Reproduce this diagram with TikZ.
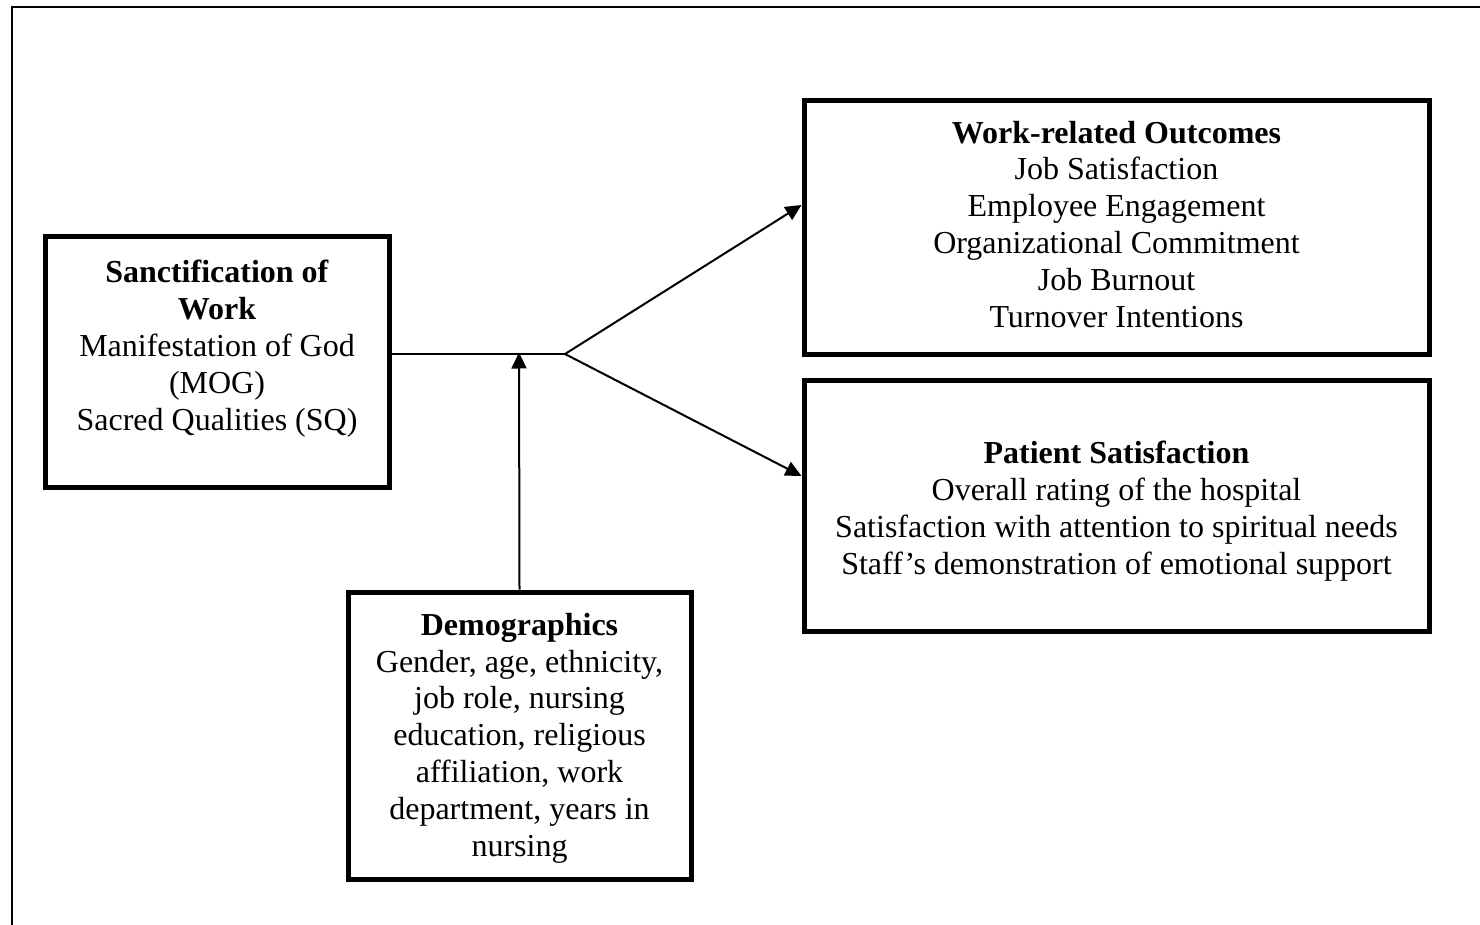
\documentclass[tikz,border=0pt]{standalone}
\usepackage{fontspec}
\setmainfont{Liberation Serif}
\usetikzlibrary{arrows.meta}
\begin{document}
\begin{tikzpicture}[x=1pt,y=-1pt,
  box/.style={draw, line width=5pt, inner sep=0pt},
  txt/.style={anchor=base, align=center, inner sep=0pt, font=\fontsize{32}{36.8}\selectfont},
  conn/.style={line width=2pt},
  arr/.style={line width=2pt, -{Triangle[length=16pt,width=15pt]}}]
\useasboundingbox (0,0) rectangle (1480,925);
% outer frame (top and left only)
\draw[line width=2.2pt] (12,925) -- (12,7) -- (1480,7);
% boxes
\node[box, minimum width=344pt, minimum height=250pt] (san) at (217,362) {};
\node[box, minimum width=625pt, minimum height=253pt] (work) at (1116.5,227.5) {};
\node[box, minimum width=625pt, minimum height=251pt] (pat) at (1116.5,505.5) {};
\node[box, minimum width=343pt, minimum height=287pt] (demo) at (519.5,735.5) {};
% texts (anchored at the baseline of the last line)
\node[txt] (santxt) at (217,430) {\textbf{Sanctification of}\\\textbf{Work}\\Manifestation of God\\(MOG)\\Sacred Qualities (SQ)};
\node[txt] (worktxt) at (1116.5,327) {\textbf{Work-related Outcomes}\\Job Satisfaction\\Employee Engagement\\Organizational Commitment\\Job Burnout\\Turnover Intentions};
\node[txt] (pattxt) at (1116.5,574) {\textbf{Patient Satisfaction}\\Overall rating of the hospital\\Satisfaction with attention to spiritual needs\\Staff’s demonstration of emotional support};
\node[txt] (demotxt) at (519.5,856) {\textbf{Demographics}\\Gender, age, ethnicity,\\job role, nursing\\education, religious\\affiliation, work\\department, years in\\nursing};
% connectors
\coordinate (j) at (565,354);
\coordinate (m) at (519,354);
\draw[conn] (san.east |- j) -- (j);
\draw[arr] (j) -- (work.west |- 0,205);
\draw[arr] (j) -- (pat.west |- 0,476);
\draw[arr] (demo.north) -- ([yshift=1.5pt]m);
\end{tikzpicture}
\end{document}
